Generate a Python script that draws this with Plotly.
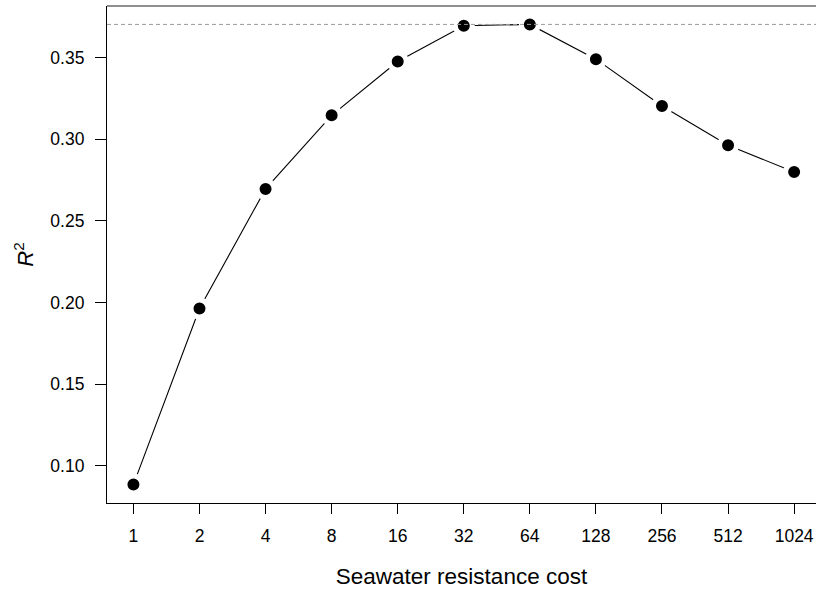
import math
import plotly.graph_objects as go

# Seawater resistance cost (log2 steps) and the model fit R^2 at each cost
cost = [1, 2, 4, 8, 16, 32, 64, 128, 256, 512, 1024]
r2 = [0.0884, 0.1963, 0.2696, 0.3147, 0.3477, 0.3696, 0.3704,
      0.3491, 0.3204, 0.2963, 0.2800]
cost_labels = [str(c) for c in cost]
ytick_vals = [0.10, 0.15, 0.20, 0.25, 0.30, 0.35]
ytick_text = ["0.10", "0.15", "0.20", "0.25", "0.30", "0.35"]

best = max(r2)
span = max(r2) - min(r2)
y_range = [min(r2) - 0.04 * span, max(r2) + 0.04 * span]
# x range in log10 units: 4% padding on the left, panel runs past the right edge
x_range = [math.log10(2 ** -0.4), math.log10(2 ** 10.331)]

FONT = "Liberation Sans, Arial, Helvetica, sans-serif"

fig = go.Figure()
fig.add_trace(go.Scatter(
    x=cost, y=r2, mode="lines+markers",
    line=dict(color="black", width=1.1),
    marker=dict(color="black", size=17, line=dict(color="white", width=5)),
    showlegend=False, hoverinfo="x+y",
))

# dashed reference line at the maximum R^2
fig.add_shape(type="line", xref="paper", x0=0, x1=1, yref="y", y0=best, y1=best,
              line=dict(color="#9a9a9a", width=1, dash="4px,3px"), layer="above")
# top edge of the panel box
fig.add_shape(type="line", xref="paper", x0=0, x1=1, yref="paper", y0=1, y1=1,
              line=dict(color="#6a6a6a", width=1.6), layer="above")

fig.update_layout(
    width=816, height=589,
    margin=dict(l=107, r=0, t=6, b=86),
    paper_bgcolor="white", plot_bgcolor="white",
    font=dict(family=FONT, size=17.5, color="black"),
    xaxis=dict(
        type="log", range=x_range, tickmode="array",
        tickvals=cost, ticktext=cost_labels,
        showgrid=False, zeroline=False,
        showline=True, linecolor="black", linewidth=1.2, mirror=False,
        ticks="outside", ticklen=10, tickwidth=1.2, tickcolor="black",
        tickfont=dict(size=17.5), ticklabelstandoff=7,
        title=dict(text="Seawater resistance cost", font=dict(size=22.5), standoff=24),
    ),
    yaxis=dict(
        range=y_range, tickmode="array",
        tickvals=ytick_vals, ticktext=ytick_text,
        showgrid=False, zeroline=False,
        showline=True, linecolor="black", linewidth=1.2, mirror=False,
        ticks="outside", ticklen=11, tickwidth=1.2, tickcolor="black",
        tickfont=dict(size=17.5), ticklabelstandoff=7,
        title=dict(text="<i>R</i><sup>2</sup>", font=dict(size=22), standoff=10),
    ),
)

fig.write_html("out.html")
